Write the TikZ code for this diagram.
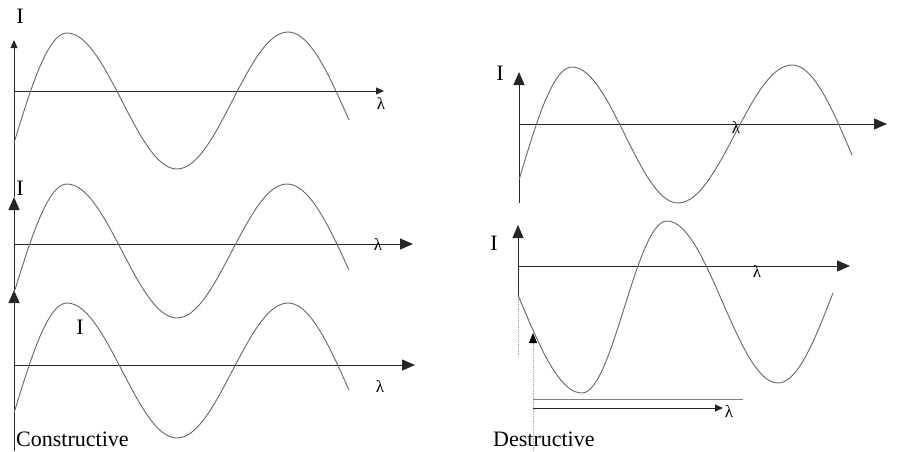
\documentclass[tikz,border=0pt]{standalone}
\usepackage{fontspec}
\setmainfont{Liberation Serif}
\usetikzlibrary{arrows.meta}

\newcommand\waveup[4]{-- plot[domain=0:1, samples=20, variable=\t] ({#1+(#3-#1)*\t},{#2+(#4-#2)*sin(90*\t)})}
\newcommand\halfwave[4]{-- plot[domain=0:1, samples=30, variable=\t] ({#1+(#3-#1)*\t},{(#2+#4)/2+(#2-#4)/2*cos(180*\t)})}
\newcommand\wavedown[4]{-- plot[domain=0:1, samples=20, variable=\t] ({#1+(#3-#1)*\t},{#2+(#4-#2)*(1-cos(90*\t))})}

\begin{document}
\begin{tikzpicture}[
  x=1pt, y=-1pt,
  axis/.style={draw=black!85, line width=1pt, -{Triangle[length=13pt, width=11pt]}},
  smallaxis/.style={draw=black!85, line width=1pt, -{Triangle[length=8pt, width=7pt]}},
  faint/.style={draw=black!35, line width=0.8pt, densely dotted},
  wave/.style={draw=black!60, line width=0.9pt},
  lbl/.style={inner sep=0pt, font=\fontsize{22}{26}\selectfont},
  lam/.style={inner sep=0pt, font=\fontsize{17}{20}\selectfont}
]
\useasboundingbox (0,0) rectangle (897,451);

\coordinate (c0) at (14,451);
\coordinate (c3) at (14,290);
\coordinate (c2) at (14,197);
\coordinate (c1) at (14,40);
\coordinate (o1) at (14,91);
\coordinate (x1) at (384,91);
\coordinate (o2) at (14,244);
\coordinate (x2) at (413,244);
\coordinate (o3) at (14,365);
\coordinate (x3) at (415,365);

\draw[axis] (c0) -- (c3);
\draw[axis] (c3) -- (c2);
\draw[smallaxis] (c2) -- (c1);
\draw[smallaxis] (o1) -- (x1);
\draw[axis] (o2) -- (x2);
\draw[axis] (o3) -- (x3);

\draw[wave] (14,143) \waveup{14}{143}{67}{33} \halfwave{67}{33}{177}{169} \halfwave{177}{169}{288}{32} \wavedown{288}{32}{349}{120};
\draw[wave] (14,293) \waveup{14}{293}{67}{184} \halfwave{67}{184}{177}{318} \halfwave{177}{318}{287}{184} \wavedown{287}{184}{349}{270};
\draw[wave] (14,413) \waveup{14}{413}{67}{303} \halfwave{67}{303}{177}{438} \halfwave{177}{438}{288}{303} \wavedown{288}{303}{349}{390};

\node[lbl] (I1) at (20,16) {I};
\node[lam] (lam1) at (381,104) {λ};
\node[lbl] (I2) at (20,188) {I};
\node[lam] (lam2) at (378,245) {λ};
\node[lbl] (I3) at (80,327) {I};
\node[lam] (lam3) at (380,387) {λ};
\node[lbl, anchor=base west] (cons) at (16,446) {Constructive};

\coordinate (d0) at (519,203);
\coordinate (d1) at (519,72);
\coordinate (p1) at (519,124);
\coordinate (q1) at (887,124);
\coordinate (e0) at (518,357);
\coordinate (e1) at (518,295);
\coordinate (e2) at (518,225);
\coordinate (p2) at (518,266);
\coordinate (q2) at (850,266);
\coordinate (f0) at (533,451);
\coordinate (f1) at (533,333);
\coordinate (g0) at (533,399);
\coordinate (g1) at (743,399);
\coordinate (h0) at (533,408);
\coordinate (h1) at (723,408);

\draw[axis] (d0) -- (d1);
\draw[axis] (p1) -- (q1);
\draw[faint] (e0) -- (e1);
\draw[axis] (e1) -- (e2);
\draw[axis] (p2) -- (q2);
\draw[faint, -{Triangle[length=10pt, width=8pt, black]}] (f0) -- (f1);
\draw[draw=black!50, line width=0.6pt] (g0) -- (g1);
\draw[smallaxis] (h0) -- (h1);

\draw[wave] (519,180) \waveup{519}{180}{572}{67} \halfwave{572}{67}{678}{203} \halfwave{678}{203}{792}{65} \wavedown{792}{65}{852}{155};
\draw[wave] (518,295) \waveup{518}{295}{582}{393} \halfwave{582}{393}{667}{221} \halfwave{667}{221}{778}{383} \wavedown{778}{383}{833}{293};

\node[lbl] (I4) at (500,73) {I};
\node[lam] (lam4) at (736,128) {λ};
\node[lbl] (I5) at (494,243) {I};
\node[lam] (lam5) at (757,272) {λ};
\node[lam] (lam6) at (729,412) {λ};
\node[lbl, anchor=base west] (dest) at (493,446) {Destructive};

\end{tikzpicture}
\end{document}
